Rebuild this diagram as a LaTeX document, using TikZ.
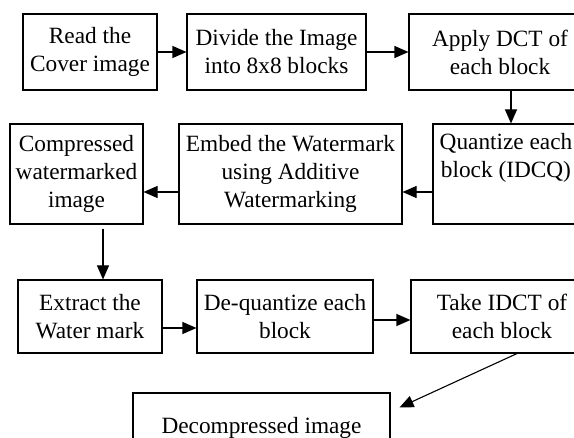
\documentclass[tikz,border=0pt]{standalone}
\usepackage{fontspec}
\setmainfont{Liberation Serif}
\usetikzlibrary{arrows.meta}

\tikzset{
  blk/.style={draw, line width=1.1pt, align=center, inner sep=1pt,
    font=\fontsize{23.3}{28}\selectfont},
  flow/.style={-{Triangle[length=14pt,width=12pt]}, line width=1.1pt}
}

\begin{document}
\begin{tikzpicture}[x=1pt,y=-1pt]
  \useasboundingbox (0,0) rectangle (574,438);
  % first row
  \node[blk, minimum width=134pt, minimum height=76pt] (read) at (90,52) {Read the\\Cover image};
  \node[blk, minimum width=179pt, minimum height=76pt] (divide) at (276.5,52) {Divide the Image\\into 8x8 blocks};
  \node[blk, minimum width=182pt, minimum height=76pt] (dct) at (500,52) {Apply DCT of\\each block};
  % second row
  \node[blk, minimum width=146pt, minimum height=100pt] (quant) at (506,174) {Quantize each\\block (IDCQ)\\\strut};
  \node[blk, minimum width=223pt, minimum height=100pt] (embed) at (290.5,174) {Embed the Watermark\\using Additive\\Watermarking};
  \node[blk, minimum width=133pt, minimum height=100pt] (comp) at (76.5,174) {Compressed\\watermarked\\image};
  % third row
  \node[blk, minimum width=144pt, minimum height=73pt] (extract) at (90,316.5) {Extract the\\Water mark};
  \node[blk, minimum width=176pt, minimum height=73pt] (dequant) at (285,316.5) {De-quantize each\\block};
  \node[blk, minimum width=182pt, minimum height=73pt] (idct) at (502,316.5) {Take IDCT of\\each block};
  \node[blk, minimum width=257pt, minimum height=70pt] (decomp) at (261.5,428) {Decompressed image};

  \path[flow]
    (read) edge (divide)
    (divide) edge (dct)
    ([xshift=11pt]dct.south) edge ([xshift=11pt]dct.south |- quant.north)
    (quant.west |- 0,192) edge (embed.east |- 0,192)
    (embed.west |- 0,192) edge (comp.east |- 0,192)
    ([xshift=26.5pt,yshift=-4pt]comp.south) edge ([xshift=26.5pt]comp.south |- extract.north)
    (extract.east |- 0,328) edge (dequant.west |- 0,328)
    (dequant.east |- 0,320) edge (idct.west |- 0,320)
    ([xshift=15pt]idct.south) edge ([xshift=9pt,yshift=-15pt]decomp.north east);
\end{tikzpicture}
\end{document}
